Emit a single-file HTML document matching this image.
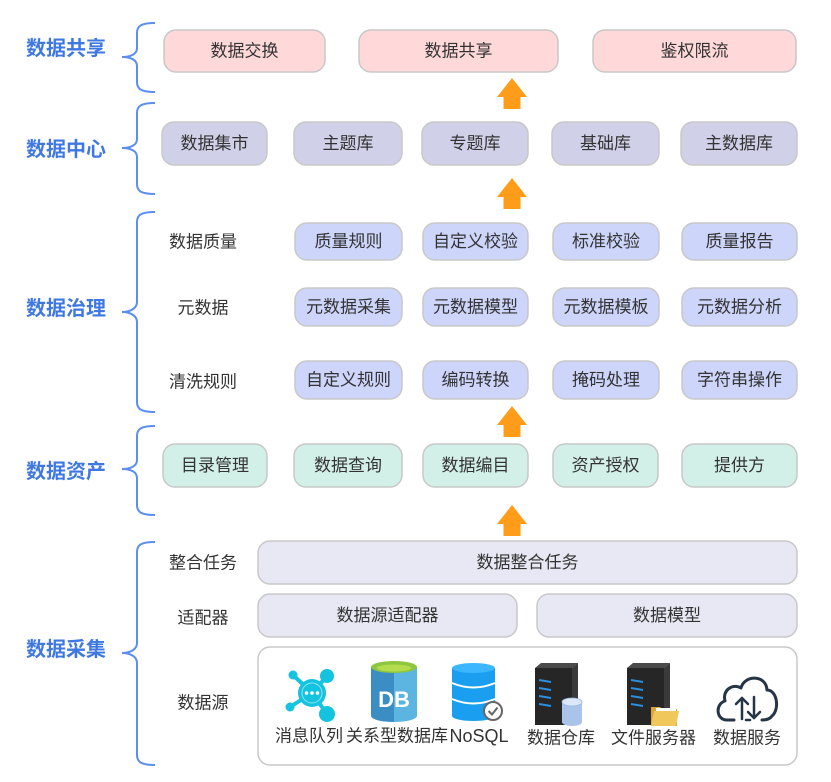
<!DOCTYPE html>
<html><head><meta charset="utf-8">
<style>
html,body{margin:0;padding:0;background:#fff;}
svg{display:block;}
text{font-family:"Liberation Sans","Noto Sans CJK SC",sans-serif;}
.b{font-size:17px;fill:#333;text-anchor:middle;dominant-baseline:central;}
.h{font-size:20px;font-weight:bold;fill:#3f78e0;dominant-baseline:central;}
.br{fill:none;stroke:#5b8ef0;stroke-width:2;}
.ar{fill:#ff9d1b;}
</style></head>
<body>
<svg width="831" height="782" viewBox="0 0 831 782" xmlns="http://www.w3.org/2000/svg">
<!-- left labels -->
<text class="h" x="26" y="49">数据共享</text>
<text class="h" x="26" y="150">数据中心</text>
<text class="h" x="26" y="309">数据治理</text>
<text class="h" x="26" y="472">数据资产</text>
<text class="h" x="26" y="650">数据采集</text>

<!-- braces -->
<path class="br" d="M155,23 C141,23 137,26 137,33 L137,48 C137,54 131,57 122,57 C131,57 137,60 137,66 L137,82 C137,89 141,92 155,92"/>
<path class="br" d="M155,103 C141,103 137,106 137,113 L137,139 C137,145 131,148 122,148 C131,148 137,151 137,157 L137,184 C137,191 141,194 155,194"/>
<path class="br" d="M155,212 C141,212 137,215 137,222 L137,302 C137,308 131,312 122,312 C131,312 137,316 137,322 L137,402 C137,409 141,412 155,412"/>
<path class="br" d="M155,426 C141,426 137,429 137,436 L137,460 C137,466 131,469 122,469 C131,469 137,472 137,478 L137,505 C137,512 141,515 155,515"/>
<path class="br" d="M155,542 C141,542 137,545 137,552 L137,643 C137,649 131,653 122,653 C131,653 137,657 137,663 L137,755 C137,762 141,765 155,765"/>

<!-- share row -->
<g stroke="#c8c8c8" stroke-width="1.5" fill="#ffd9d9">
<rect x="164" y="30" width="161" height="42" rx="12"/>
<rect x="359" y="30" width="199" height="42" rx="12"/>
<rect x="593" y="30" width="203" height="42" rx="12"/>
</g>
<text class="b" x="244.5" y="51">数据交换</text>
<text class="b" x="458.5" y="51">数据共享</text>
<text class="b" x="694.5" y="51">鉴权限流</text>

<!-- arrows -->
<polygon class="ar" points="512,78 527,97 520.5,97 520.5,109 503.5,109 503.5,97 497,97"/>
<polygon class="ar" points="512,178 527,197 520.5,197 520.5,209 503.5,209 503.5,197 497,197"/>
<polygon class="ar" points="512,406 527,425 520.5,425 520.5,437 503.5,437 503.5,425 497,425"/>
<polygon class="ar" points="512,505 527,524 520.5,524 520.5,536 503.5,536 503.5,524 497,524"/>

<!-- center row -->
<g stroke="#c8c8c8" stroke-width="1.5" fill="#d0d1e8">
<rect x="162" y="122" width="105" height="43" rx="12"/>
<rect x="294" y="122" width="108" height="43" rx="12"/>
<rect x="422" y="122" width="106" height="43" rx="12"/>
<rect x="552" y="122" width="107" height="43" rx="12"/>
<rect x="681" y="122" width="116" height="43" rx="12"/>
</g>
<text class="b" x="214.5" y="143.5">数据集市</text>
<text class="b" x="348" y="143.5">主题库</text>
<text class="b" x="475" y="143.5">专题库</text>
<text class="b" x="605.5" y="143.5">基础库</text>
<text class="b" x="739" y="143.5">主数据库</text>

<!-- governance -->
<text class="b" x="203" y="242">数据质量</text>
<text class="b" x="203" y="308">元数据</text>
<text class="b" x="203" y="382">清洗规则</text>
<g stroke="#c8c8c8" stroke-width="1.5" fill="#cdd5fb">
<rect x="295" y="223" width="107" height="37" rx="12"/>
<rect x="423" y="223" width="105" height="37" rx="12"/>
<rect x="553" y="223" width="106" height="37" rx="12"/>
<rect x="682" y="223" width="115" height="37" rx="12"/>
<rect x="295" y="288" width="107" height="38" rx="12"/>
<rect x="423" y="288" width="105" height="38" rx="12"/>
<rect x="553" y="288" width="106" height="38" rx="12"/>
<rect x="682" y="288" width="115" height="38" rx="12"/>
<rect x="295" y="361" width="107" height="38" rx="12"/>
<rect x="423" y="361" width="105" height="38" rx="12"/>
<rect x="553" y="361" width="106" height="38" rx="12"/>
<rect x="682" y="361" width="115" height="38" rx="12"/>
</g>
<text class="b" x="348.5" y="241.5">质量规则</text>
<text class="b" x="475.5" y="241.5">自定义校验</text>
<text class="b" x="606" y="241.5">标准校验</text>
<text class="b" x="739.5" y="241.5">质量报告</text>
<text class="b" x="348.5" y="307">元数据采集</text>
<text class="b" x="475.5" y="307">元数据模型</text>
<text class="b" x="606" y="307">元数据模板</text>
<text class="b" x="739.5" y="307">元数据分析</text>
<text class="b" x="348.5" y="380">自定义规则</text>
<text class="b" x="475.5" y="380">编码转换</text>
<text class="b" x="606" y="380">掩码处理</text>
<text class="b" x="739.5" y="380">字符串操作</text>

<!-- asset row -->
<g stroke="#c8c8c8" stroke-width="1.5" fill="#d3f0e8">
<rect x="163" y="444" width="104" height="43" rx="12"/>
<rect x="294" y="444" width="108" height="43" rx="12"/>
<rect x="423" y="444" width="105" height="43" rx="12"/>
<rect x="553" y="444" width="105" height="43" rx="12"/>
<rect x="682" y="444" width="115" height="43" rx="12"/>
</g>
<text class="b" x="215" y="465.5">目录管理</text>
<text class="b" x="348" y="465.5">数据查询</text>
<text class="b" x="475.5" y="465.5">数据编目</text>
<text class="b" x="605.5" y="465.5">资产授权</text>
<text class="b" x="739.5" y="465.5">提供方</text>

<!-- collection -->
<text class="b" x="203" y="563">整合任务</text>
<text class="b" x="203" y="618">适配器</text>
<text class="b" x="203" y="703">数据源</text>
<g stroke="#c8c8c8" stroke-width="1.5" fill="#e8e8f4">
<rect x="258" y="541" width="539" height="43" rx="12"/>
<rect x="258" y="594" width="259" height="43" rx="12"/>
<rect x="537" y="594" width="260" height="43" rx="12"/>
</g>
<rect x="258" y="647" width="539" height="118" rx="12" fill="#fff" stroke="#c8c8c8" stroke-width="1.5"/>
<text class="b" x="527.5" y="562.5">数据整合任务</text>
<text class="b" x="387.5" y="615.5">数据源适配器</text>
<text class="b" x="667" y="615.5">数据模型</text>

<!-- icon 1: message queue -->
<g stroke="#14c3df" stroke-width="4" stroke-linecap="round">
<line x1="312" y1="693" x2="293" y2="675"/>
<line x1="312" y1="693" x2="327" y2="676"/>
<line x1="312" y1="693" x2="290" y2="707"/>
<line x1="312" y1="693" x2="327" y2="714"/>
</g>
<g fill="#14c3df">
<circle cx="293" cy="675" r="4.5"/>
<circle cx="327" cy="676" r="7"/>
<circle cx="290" cy="707" r="4.5"/>
<circle cx="327" cy="714" r="8"/>
<circle cx="312" cy="693" r="14"/>
</g>
<circle cx="312" cy="693" r="10" fill="none" stroke="#8ee3f0" stroke-width="1"/>
<g fill="#fff">
<circle cx="306.5" cy="693" r="1.8"/>
<circle cx="312" cy="693" r="1.8"/>
<circle cx="317.5" cy="693" r="1.8"/>
</g>

<!-- icon 2: DB -->
<path d="M371,667 L371,716 A23,6 0 0 0 394,722 L394,667 Z" fill="#3a8ec4"/>
<path d="M394,667 L394,722 A23,6 0 0 0 417,716 L417,667 Z" fill="#5cb5e0"/>
<ellipse cx="394" cy="667" rx="23" ry="6" fill="#8dc63f"/>
<ellipse cx="394" cy="668" rx="17" ry="3.5" fill="#b5dc4f"/>
<text x="394" y="707" font-size="22" font-weight="bold" fill="#fff" text-anchor="middle" style="font-family:'Liberation Sans',sans-serif">DB</text>

<!-- icon 3: NoSQL -->
<rect x="452" y="668" width="43" height="48" fill="#1a9ff0"/>
<ellipse cx="473.5" cy="716" rx="21.5" ry="5" fill="#1a9ff0"/>
<ellipse cx="473.5" cy="668" rx="21.5" ry="5" fill="#3cb6ff"/>
<path d="M452,683 Q473.5,692 495,683 M452,699 Q473.5,708 495,699" fill="none" stroke="#fff" stroke-width="2"/>
<circle cx="493" cy="711" r="9" fill="#fff" stroke="#666" stroke-width="2"/>
<path d="M488.5,711 L492,714.5 L497.5,707.5" fill="none" stroke="#666" stroke-width="2"/>

<!-- icon 4: server + db -->
<polygon points="535,668 541,663 578,663 572,668" fill="#4a4a4a"/>
<polygon points="572,668 578,663 578,720 572,725" fill="#3a3a3a"/>
<rect x="535" y="668" width="37" height="57" fill="#262626"/>
<g stroke="#2a8fe0" stroke-width="2">
<line x1="539" y1="680" x2="551" y2="682"/>
<line x1="539" y1="688" x2="551" y2="690"/>
<line x1="539" y1="696" x2="551" y2="698"/>
<line x1="539" y1="704" x2="551" y2="706"/>
</g>
<rect x="562" y="702" width="20" height="20" fill="#a9c3ea"/>
<ellipse cx="572" cy="722" rx="10" ry="4" fill="#a9c3ea"/>
<ellipse cx="572" cy="702" rx="10" ry="4" fill="#dce8f8" stroke="#9ab4dc" stroke-width="0.8"/>

<!-- icon 5: server + folder -->
<polygon points="627,668 633,663 670,663 664,668" fill="#4a4a4a"/>
<polygon points="664,668 670,663 670,720 664,725" fill="#3a3a3a"/>
<rect x="627" y="668" width="37" height="57" fill="#262626"/>
<g stroke="#2a8fe0" stroke-width="2">
<line x1="631" y1="680" x2="643" y2="682"/>
<line x1="631" y1="688" x2="643" y2="690"/>
<line x1="631" y1="696" x2="643" y2="698"/>
<line x1="631" y1="704" x2="643" y2="706"/>
</g>
<polygon points="651,707 660,707 662,709 677,709 677,726 651,726" fill="#d9a43a"/>
<polygon points="654,711 679,711 676,726 651,726" fill="#f0c75a"/>
<rect x="656" y="708" width="20" height="3" fill="#fff"/>

<!-- icon 6: cloud -->
<path d="M734,720 L727,720 C716,720 715,704 725,701 C722,690 733,683 741,688 C744,675 766,674 767,690 C777,690 780,709 772,716 C770,719 767,720 762,720" fill="none" stroke="#253545" stroke-width="3" stroke-linecap="round" stroke-linejoin="round"/>
<g fill="none" stroke="#253545" stroke-width="2.5" stroke-linecap="round" stroke-linejoin="round">
<line x1="742" y1="719" x2="742" y2="698"/>
<polyline points="736,704 742,698 748,704"/>
<line x1="754" y1="697" x2="754" y2="718"/>
<polyline points="748,712 754,718 760,712"/>
<line x1="746" y1="720" x2="750" y2="720"/>
</g>

<!-- icon labels -->
<text class="b" x="309" y="736">消息队列</text>
<text class="b" x="397" y="736">关系型数据库</text>
<text class="b" x="479" y="736" style="font-size:18px">NoSQL</text>
<text class="b" x="561" y="738">数据仓库</text>
<text class="b" x="653.5" y="738">文件服务器</text>
<text class="b" x="747" y="738">数据服务</text>
</svg>
</body></html>
